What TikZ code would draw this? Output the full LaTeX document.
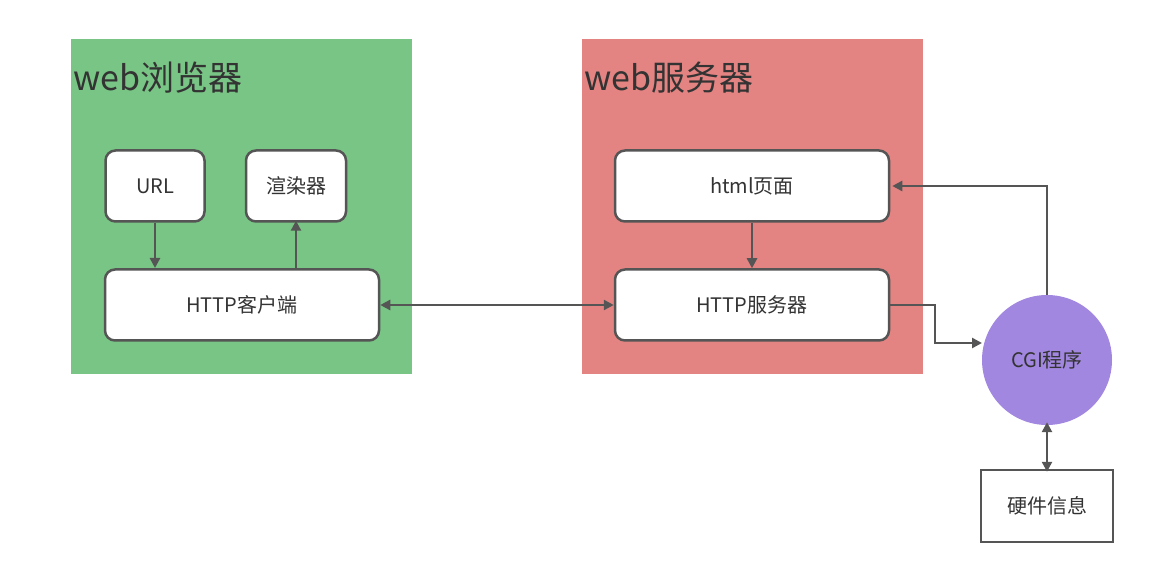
\documentclass[tikz,border=0pt]{standalone}
\usepackage{fontspec}
\setmainfont{Noto Sans CJK SC}
\usetikzlibrary{arrows.meta}
\definecolor{gr}{HTML}{78C585}
\definecolor{rd}{HTML}{E48482}
\definecolor{pu}{HTML}{A287E0}
\definecolor{ln}{HTML}{555555}
\begin{document}
\begin{tikzpicture}[x=1pt,y=-1pt,
  box/.style={draw=ln,line width=2.5pt,fill=white,rounded corners=10pt,font=\fontsize{20}{24}\selectfont,text=black!80},
  arr/.style={draw=ln,line width=2.5pt,-{Triangle[length=10pt,width=10pt]}},
  darr/.style={draw=ln,line width=2.5pt,{Triangle[length=10pt,width=10pt]}-{Triangle[length=10pt,width=10pt]}},
  title/.style={font=\fontsize{34}{40}\selectfont,text=black!80,anchor=west}]
\useasboundingbox (0,0) rectangle (1165,585);
\fill[gr] (71,39) rectangle (412,374);
\fill[rd] (582,39) rectangle (923,374);
\node[title] (t1) at (70,78) {web浏览器};
\node[title] (t2) at (581,78) {web服务器};
\node[box,minimum width=99pt,minimum height=71pt] (url) at (155,186) {URL};
\node[box,minimum width=100pt,minimum height=71pt] (xr) at (296,186) {渲染器};
\node[box,minimum width=274pt,minimum height=71pt] (cli) at (242,305) {HTTP客户端};
\node[box,minimum width=274pt,minimum height=71pt] (html) at (752,186) {html页面};
\node[box,minimum width=274pt,minimum height=71pt] (srv) at (752,305) {HTTP服务器};
\node[circle,fill=pu,minimum size=130pt,inner sep=0pt,font=\fontsize{20}{24}\selectfont,text=black!80] (cgi) at (1047,360) {CGI程序};
\node[draw=ln,line width=2.5pt,minimum width=132pt,minimum height=72pt,font=\fontsize{20}{24}\selectfont,text=black!80] (hw) at (1047,506) {硬件信息};
\draw[arr] (url.south) -- (155,268);
\draw[arr] (xr.south |- cli.north) -- ([yshift=2pt]xr.south);
\draw[darr] (cli.east) -- (srv.west);
\draw[arr] (html.south) -- (srv.north);
\draw[arr] (srv.east) -- (935,305) -- (935,343) -- (982,343);
\draw[arr] (cgi.north) -- (1047,186) -- ([xshift=2pt]html.east);
\draw[darr] ([yshift=3pt]cgi.south) -- ([yshift=-3pt]hw.north);
\end{tikzpicture}
\end{document}
